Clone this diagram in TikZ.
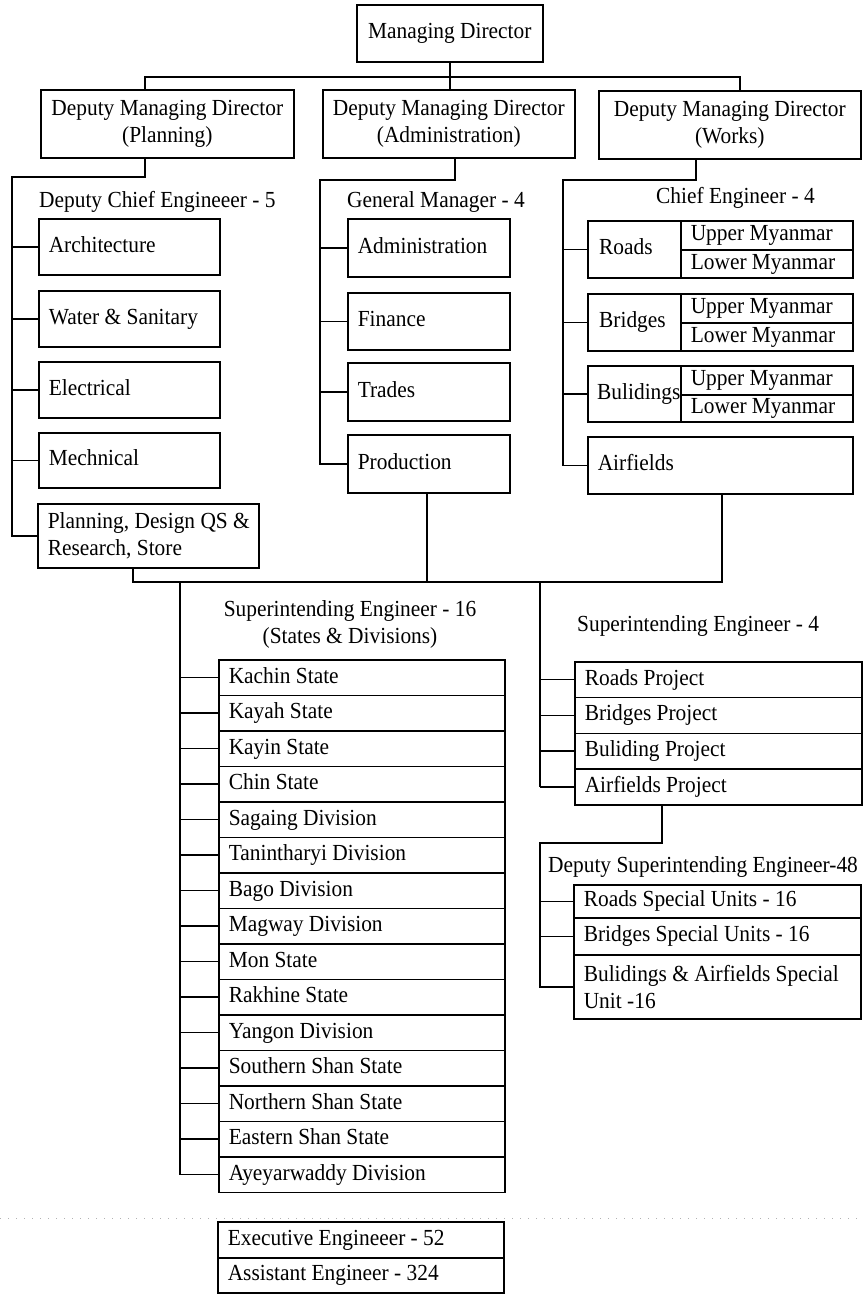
\documentclass[tikz,border=0pt]{standalone}
\usepackage{fontspec}
\setmainfont{Liberation Serif}[FakeStretch=0.93]
\begin{document}
\begin{tikzpicture}[x=1pt,y=-1pt,
  font=\fontsize{23}{27}\selectfont,
  ln/.style={line width=1.6pt},
  bx/.style={draw, line width=1.6pt, anchor=north west, inner xsep=10pt, inner ysep=0pt, align=flush left},
  ctr/.style={align=flush center, inner xsep=4pt},
  one/.style={text height=16pt, text depth=5pt},
  lbl/.style={anchor=base west, inner sep=0pt},
]
\useasboundingbox (0,0) rectangle (864,1294);

% ---- top level
\node[bx, one, ctr, minimum width=186pt, minimum height=57pt, text width=178pt] (md) at (356,4) {Managing Director};
\node[bx, ctr, minimum width=253pt, minimum height=68pt, text width=245pt] (dmdp) at (40,89) {Deputy Managing Director\\(Planning)};
\node[bx, ctr, minimum width=252pt, minimum height=68pt, text width=244pt] (dmda) at (322,89) {Deputy Managing Director\\(Administration)};
\node[bx, ctr, minimum width=262pt, minimum height=68pt, text width=254pt] (dmdw) at (598,90) {Deputy Managing Director\\(Works)};

\coordinate (busL) at (145,77);
\coordinate (busR) at (740,77);
\draw[ln] (md.south) -- (md.south |- dmda.north);
\draw[ln] (busL |- dmdp.north) -- (busL) -- (busR) -- (busR |- dmdw.north);

% ---- planning column
\node[lbl] (dce) at (39,207) {Deputy Chief Engineeer - 5};
\node[bx, one, minimum width=181pt, minimum height=56pt, text width=161pt] (arch) at (38,218) {Architecture};
\node[bx, one, minimum width=181pt, minimum height=56pt, text width=161pt] (water) at (38,290) {Water \& Sanitary};
\node[bx, one, minimum width=181pt, minimum height=56pt, text width=161pt] (elec) at (38,361) {Electrical};
\node[bx, one, minimum width=181pt, minimum height=55pt, text width=161pt] (mech) at (38,432) {Mechnical};
\node[bx, minimum width=221pt, minimum height=64pt, text width=201pt] (plan) at (37,503) {\mbox{Planning, Design QS \&}\\Research, Store};

\coordinate (pdrop) at (145,177);
\coordinate (lsp) at (12,177);
\draw[ln] (pdrop |- dmdp.south) -- (pdrop) -- (lsp) |- (plan.west);
\foreach \n in {arch,water,elec,mech} \draw[ln] (lsp |- \n.west) -- (\n.west);

% ---- administration column
\node[lbl] (gm) at (347,207) {General Manager - 4};
\node[bx, one, minimum width=162pt, minimum height=58pt, text width=142pt] (adm) at (347,218) {Administration};
\node[bx, one, minimum width=162pt, minimum height=57pt, text width=142pt] (fin) at (347,292) {Finance};
\node[bx, one, minimum width=162pt, minimum height=58pt, text width=142pt] (trd) at (347,362) {Trades};
\node[bx, one, minimum width=162pt, minimum height=58pt, text width=142pt] (prod) at (347,434) {Production};

\coordinate (adrop) at (455,180);
\coordinate (msp) at (320,180);
\draw[ln] (adrop |- dmda.south) -- (adrop) -- (msp) |- (prod.west);
\foreach \n in {adm,fin,trd} \draw[ln] (msp |- \n.west) -- (\n.west);

% ---- works column
\node[lbl] (ce) at (656,203) {Chief Engineer - 4};
\node[bx, minimum width=93pt, minimum height=57pt] (roads) at (587,220) {};
\node[one, anchor=west, inner sep=0pt] (roadsT) at ([xshift=12pt]roads.west) {Roads};
\node[bx, one, minimum width=172pt, minimum height=29pt, text width=152pt] (roadsU) at (680,220) {Upper Myanmar};
\node[bx, one, minimum width=172pt, minimum height=28pt, text width=152pt] (roadsL) at (680,249) {Lower Myanmar};

\node[bx, minimum width=93pt, minimum height=57pt] (bridges) at (587,293) {};
\node[one, anchor=west, inner sep=0pt] (bridgesT) at ([xshift=12pt]bridges.west) {Bridges};
\node[bx, one, minimum width=172pt, minimum height=29pt, text width=152pt] (bridgesU) at (680,293) {Upper Myanmar};
\node[bx, one, minimum width=172pt, minimum height=28pt, text width=152pt] (bridgesL) at (680,322) {Lower Myanmar};

\node[bx, minimum width=93pt, minimum height=56pt] (buil) at (587,365) {};
\node[one, anchor=west, inner sep=0pt] (builT) at ([xshift=10pt]buil.west) {Bulidings};
\node[bx, one, minimum width=172pt, minimum height=29pt, text width=152pt] (builU) at (680,365) {Upper Myanmar};
\node[bx, one, minimum width=172pt, minimum height=27pt, text width=152pt] (builL) at (680,394) {Lower Myanmar};

\node[bx, one, minimum width=265pt, minimum height=57pt, text width=245pt] (air) at (587,436) {Airfields};

\coordinate (wdrop) at (696,180);
\coordinate (rsp) at (563,180);
\draw[ln] (wdrop |- dmdw.south) -- (wdrop) -- (rsp) |- (air.west);
\foreach \n in {roads,bridges,buil} \draw[ln] (rsp |- \n.west) -- (\n.west);

% ---- lower bus
\coordinate (b1) at (133,582);
\coordinate (b2) at (427,582);
\coordinate (b3) at (722,582);
\coordinate (sL) at (180,582);
\coordinate (sR) at (540,582);
\draw[ln] (b1 |- plan.south) -- (b1) -- (b3) -- (b3 |- air.south);
\draw[ln] (b2 |- prod.south) -- (b2);

% ---- states & divisions
\node[inner sep=0pt, align=flush center] (se16) at (350,624) {Superintending Engineer - 16\\(States \& Divisions)};
\foreach \t [count=\i] in {Kachin State, Kayah State, Kayin State, Chin State, Sagaing Division, Tanintharyi Division, Bago Division, Magway Division, Mon State, Rakhine State, Yangon Division, Southern Shan State, Northern Shan State, Eastern Shan State, Ayeyarwaddy Division}{
  \node[bx, one, minimum width=286pt, minimum height=35.5pt, text width=266pt] (st\i) at (218,{659+(\i-1)*35.5}) {\t};
  \draw[ln] (sL |- st\i.west) -- (st\i.west);
}
\draw[ln] (sL) -- (sL |- st15.west);

% ---- projects
\node[lbl] (se4) at (577,631) {Superintending Engineer - 4};
\foreach \t [count=\i] in {Roads Project, Bridges Project, Buliding Project, Airfields Project}{
  \node[bx, one, minimum width=287pt, minimum height=35.75pt, text width=267pt] (pr\i) at (574,{661+(\i-1)*35.75}) {\t};
  \draw[ln] (sR |- pr\i.west) -- (pr\i.west);
}
\draw[ln] (sR) -- (sR |- pr4.west);

% ---- special units
\node[lbl] (dse) at (548,872) {Deputy Superintending Engineer-48};
\node[bx, one, minimum width=287pt, minimum height=33pt, text width=267pt] (su1) at (573,884) {Roads Special Units - 16};
\node[bx, one, minimum width=287pt, minimum height=37pt, text width=267pt] (su2) at (573,917) {Bridges Special Units - 16};
\node[bx, minimum width=287pt, minimum height=64pt, text width=267pt] (su3) at (573,954) {Bulidings \& Airfields Special\\Unit -16};
\coordinate (pdr) at (662,843);
\coordinate (dsp) at (540,843);
\draw[ln] (pdr |- pr4.south) -- (pdr) -- (dsp) |- (su3.west);
\foreach \n in {su1,su2} \draw[ln] (dsp |- \n.west) -- (\n.west);

% ---- faint scan line
\draw[black!30, line width=0.8pt, dash pattern=on 1pt off 7pt] (0,1218) -- (864,1218);

% ---- engineers
\node[bx, one, minimum width=286pt, minimum height=36pt, text width=266pt] (ex1) at (217,1221) {Executive Engineeer - 52};
\node[bx, one, minimum width=286pt, minimum height=35pt, text width=266pt] (ex2) at (217,1257) {Assistant Engineer - 324};
\end{tikzpicture}
\end{document}
